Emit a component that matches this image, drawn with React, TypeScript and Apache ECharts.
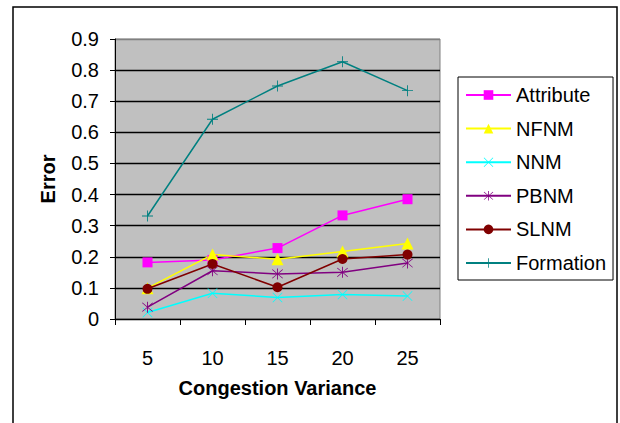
import React, { useEffect, useRef } from "react";
import * as echarts from "echarts";

const categories = ["5", "10", "15", "20", "25"];
const attribute = [0.182, 0.19, 0.228, 0.333, 0.385];
const nfnm = [0.099, 0.207, 0.192, 0.217, 0.243];
const nnm = [0.021, 0.083, 0.069, 0.079, 0.074];
const pbnm = [0.038, 0.155, 0.145, 0.15, 0.18];
const slnm = [0.097, 0.177, 0.102, 0.193, 0.207];
const formation = [0.331, 0.642, 0.749, 0.827, 0.734];

const X_PATH =
  "path://M1,0 L10,9 L19,0 L20,1 L11,10 L20,19 L19,20 L10,11 L1,20 L0,19 L9,10 L0,1 Z";
const STAR_PATH =
  "path://M1,0 L10,9 L19,0 L20,1 L11,10 L20,19 L19,20 L10,11 L1,20 L0,19 L9,10 L0,1 Z M9.2,-2 L10.8,-2 L10.8,22 L9.2,22 Z";
const PLUS_PATH =
  "path://M9.2,0 L10.8,0 L10.8,9.2 L20,9.2 L20,10.8 L10.8,10.8 L10.8,20 L9.2,20 L9.2,10.8 L0,10.8 L0,9.2 L9.2,9.2 Z";

const FONT = "'Liberation Sans', Arial, sans-serif";

export default function App() {
  const ref = useRef<HTMLDivElement>(null);

  useEffect(() => {
    document.body.style.margin = "0";
    if (!ref.current) return;
    const chart = echarts.init(ref.current, undefined, { renderer: "svg" });

    const mk = (name: string, data: number[], color: string, symbol: string, size: number) => ({
      name,
      type: "line",
      data,
      symbol,
      symbolSize: size,
      color,
      lineStyle: { color, width: 1.5 },
      itemStyle: { color, borderWidth: 0 },
      emphasis: { disabled: true },
    });

    const gridColors = ["#000", "#000", "#000", "#000", "#000", "#000", "#000", "#000", "#000", "#808080"];

    chart.setOption({
      animation: false,
      textStyle: { fontFamily: FONT },
      graphic: [
        {
          type: "rect",
          shape: { x: 13, y: 7, width: 604, height: 500 },
          style: { fill: "none", stroke: "#000", lineWidth: 1.5 },
          silent: true,
          z: -10,
        },
      ],
      grid: {
        left: 115,
        top: 39,
        right: 180,
        bottom: 104,
        show: true,
        backgroundColor: "#C0C0C0",
        borderColor: "#808080",
        borderWidth: 1,
      },
      legend: {
        orient: "vertical",
        left: 458,
        top: 77,
        itemWidth: 45,
        itemHeight: 12,
        itemGap: 13.6,
        padding: [8, 7, 7, 7],
        borderColor: "#000",
        borderWidth: 1,
        backgroundColor: "#fff",
        borderRadius: 0,
        textStyle: { fontFamily: FONT, fontSize: 20, color: "#000", lineHeight: 20 },
        data: ["Attribute", "NFNM", "NNM", "PBNM", "SLNM", "Formation"],
      },
      xAxis: {
        type: "category",
        data: categories,
        boundaryGap: true,
        name: "Congestion Variance",
        nameLocation: "middle",
        nameGap: 59,
        nameTextStyle: { fontFamily: FONT, fontSize: 20, fontWeight: "bold", color: "#000" },
        axisLine: { lineStyle: { color: "#000", width: 1 } },
        axisTick: { show: true, length: 6, lineStyle: { color: "#000" } },
        axisLabel: { margin: 29, fontFamily: FONT, fontSize: 20, color: "#000" },
        splitLine: { show: false },
      },
      yAxis: {
        type: "value",
        min: 0,
        max: 0.9,
        interval: 0.1,
        name: "Error",
        nameLocation: "middle",
        nameGap: 57,
        nameRotate: 90,
        nameTextStyle: { fontFamily: FONT, fontSize: 20, fontWeight: "bold", color: "#000" },
        axisLine: { show: true, lineStyle: { color: "#000", width: 1 } },
        axisTick: { show: true, length: 5, lineStyle: { color: "#000" } },
        axisLabel: {
          margin: 16,
          fontFamily: FONT,
          fontSize: 20,
          color: "#000",
          formatter: (v: number) => (v === 0 ? "0" : v.toFixed(1)),
        },
        splitLine: { show: true, lineStyle: { color: gridColors, width: 1.3 } },
      },
      series: [
        mk("Attribute", attribute, "#FF00FF", "rect", 10),
        mk("NFNM", nfnm, "#FFFF00", "triangle", 12),
        mk("NNM", nnm, "#00FFFF", X_PATH, 10),
        mk("PBNM", pbnm, "#800080", STAR_PATH, 11),
        mk("SLNM", slnm, "#800000", "circle", 10),
        mk("Formation", formation, "#008080", PLUS_PATH, 11),
      ],
    });

    return () => chart.dispose();
  }, []);

  return (
    <div
      ref={ref}
      style={{ position: "absolute", left: 0, top: 0, width: 620, height: 423, background: "#fff" }}
    />
  );
}
